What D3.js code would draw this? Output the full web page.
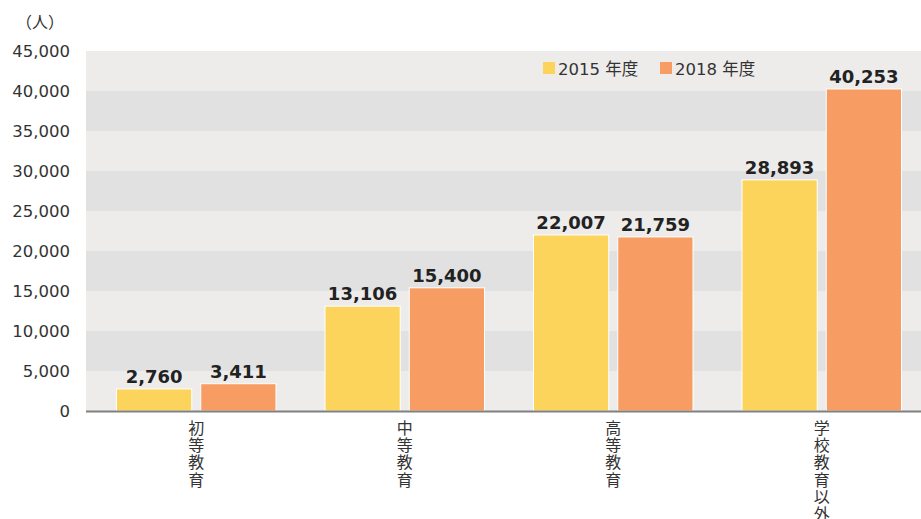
<!DOCTYPE html>
<html>
<head>
<meta charset="utf-8">
<script src="https://cdn.jsdelivr.net/npm/d3@7"></script>
<style>
  body { margin: 0; background: #fff; }
  text { font-family: "DejaVu Sans", "Noto Sans CJK JP", sans-serif; }
</style>
</head>
<body>
<div id="chart"></div>
<script>
// data
var categories = ["初等教育", "中等教育", "高等教育", "学校教育以外"];
var seriesNames = ["2015 年度", "2018 年度"];
var values2015 = [2760, 13106, 22007, 28893];
var values2018 = [3411, 15400, 21759, 40253];
var yTicks = [0, 5000, 10000, 15000, 20000, 25000, 30000, 35000, 40000, 45000];

var width = 921, height = 519;
var margin = { top: 51, right: 0, bottom: 108, left: 86 };
var colors = ["#fcd45b", "#f79d63"];

var rows = categories.map((c, i) => ({ cat: c, vals: [values2015[i], values2018[i]] }));

var svg = d3.select("#chart").append("svg")
    .attr("width", width)
    .attr("height", height);

var y = d3.scaleLinear()
    .domain([0, 45000])
    .range([height - margin.bottom, margin.top]);

var x0 = d3.scaleBand()
    .domain(categories)
    .range([92, 926])
    .paddingInner(0.235)
    .paddingOuter(0.1175);

var x1 = d3.scaleBand()
    .domain(seriesNames)
    .range([0, x0.bandwidth()])
    .paddingInner(0.107)
    .paddingOuter(0);

// striped background
var bands = d3.range(0, yTicks.length - 1);
svg.append("g")
    .selectAll("rect")
    .data(bands)
    .enter()
    .append("rect")
    .attr("x", margin.left)
    .attr("width", width - margin.left - margin.right)
    .attr("y", i => y(yTicks[i + 1]))
    .attr("height", i => y(yTicks[i]) - y(yTicks[i + 1]))
    .attr("fill", i => (yTicks.length - 2 - i) % 2 === 0 ? "#edeceb" : "#e1e1e1");

// y axis labels
var yAxis = g => g
    .attr("transform", `translate(${margin.left},0)`)
    .call(d3.axisLeft(y).tickValues(yTicks).tickFormat(d3.format(",")).tickSize(0).tickPadding(16))
    .call(g => g.select(".domain").remove())
    .call(g => g.selectAll("text")
        .attr("fill", "#333")
        .style("font-size", "16.5px")
        .style("font-family", "'DejaVu Sans', sans-serif"));
svg.append("g").call(yAxis);

svg.append("text")
    .attr("x", 40)
    .attr("y", 28)
    .attr("text-anchor", "middle")
    .attr("fill", "#333")
    .style("font-size", "16px")
    .style("font-family", "'Noto Sans CJK JP', sans-serif")
    .text("（人）");

// bars
var groups = svg.append("g")
    .selectAll("g")
    .data(rows)
    .enter()
    .append("g")
    .attr("transform", d => `translate(${x0(d.cat)},0)`);

groups.selectAll("rect")
    .data(d => d.vals.map((v, i) => ({ key: seriesNames[i], v: v, i: i })))
    .enter()
    .append("rect")
    .attr("x", d => x1(d.key))
    .attr("y", d => y(d.v))
    .attr("width", x1.bandwidth())
    .attr("height", d => y(0) - y(d.v))
    .attr("fill", d => colors[d.i])
    .attr("stroke", "#fff")
    .attr("stroke-width", 1);

groups.selectAll(".val")
    .data(d => d.vals.map((v, i) => ({ key: seriesNames[i], v: v, i: i })))
    .enter()
    .append("text")
    .attr("class", "val")
    .attr("x", d => x1(d.key) + x1.bandwidth() / 2)
    .attr("y", d => y(d.v) - 6)
    .attr("text-anchor", "middle")
    .attr("fill", "#222")
    .style("font-size", "18px")
    .style("font-weight", "bold")
    .style("font-family", "'DejaVu Sans', sans-serif")
    .text(d => d3.format(",")(d.v));

// baseline
svg.append("line")
    .attr("x1", margin.left)
    .attr("x2", width)
    .attr("y1", y(0) + 0.5)
    .attr("y2", y(0) + 0.5)
    .attr("stroke", "#808080")
    .attr("stroke-width", 2);

// vertical category labels
svg.append("g")
    .selectAll("text")
    .data(categories)
    .enter()
    .append("text")
    .attr("x", c => x0(c) + x0.bandwidth() / 2)
    .attr("y", y(0) + 9)
    .attr("fill", "#333")
    .style("writing-mode", "vertical-rl")
    .style("font-size", "16px")
    .style("letter-spacing", "1.2px")
    .style("font-family", "'Noto Sans CJK JP', sans-serif")
    .text(c => c);

// legend
var legend = svg.append("g")
    .selectAll("g")
    .data(seriesNames)
    .enter()
    .append("g")
    .attr("transform", (d, i) => `translate(${543 + i * 117},62)`);

legend.append("rect")
    .attr("width", 12)
    .attr("height", 12)
    .attr("fill", (d, i) => colors[i]);

legend.append("text")
    .attr("x", 15)
    .attr("y", 12.5)
    .attr("fill", "#333")
    .style("font-size", "16.5px")
    .text(d => d);
</script>
</body>
</html>
